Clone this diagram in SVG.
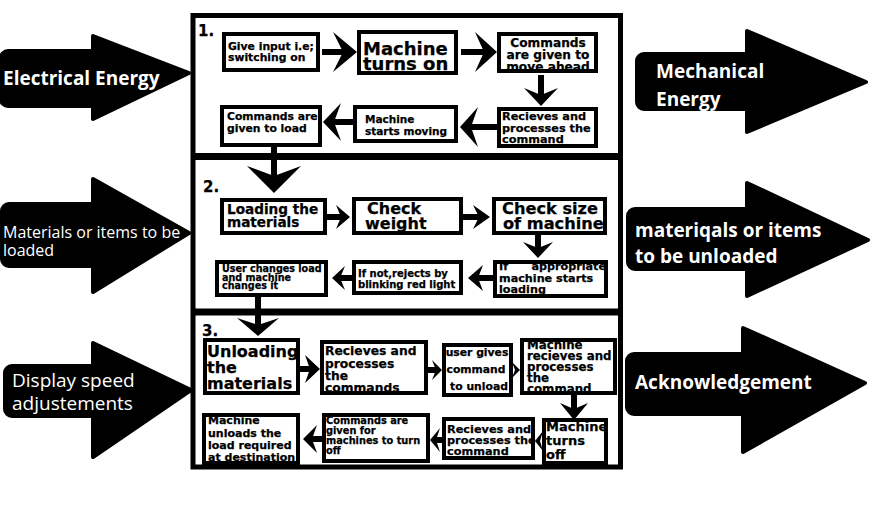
<svg xmlns="http://www.w3.org/2000/svg" width="891" height="514" viewBox="0 0 891 514">
<style>
.bx{fill:none;stroke:#000;stroke-width:4}
.t{font-family:"DejaVu Sans",sans-serif;font-weight:bold;fill:#000;stroke:#000;stroke-width:0.25}
.sh{stroke:#000;fill:none}
.hd{fill:#000}
.blk{fill:#000;stroke:#000;stroke-width:4;stroke-linejoin:round}
.st{font-family:"Open Sans","Noto Sans",sans-serif;fill:#fff}
.fr{fill:none;stroke:#000}
</style>
<rect width="891" height="514" fill="#fff"/>
<g id="side-arrows">
<g id="in-electrical"><rect class="blk" x="1" y="51" width="105" height="55" rx="7"/><path class="blk" d="M93,36 L189,73 L93,119 Z"/><text class="st" x="3" y="85" font-size="19" font-weight="bold">Electrical Energy</text></g>
<g id="in-materials"><rect class="blk" x="2" y="204" width="105" height="62" rx="7"/><path class="blk" d="M93,179 L189,233 L93,292 Z"/><text class="st" x="3" y="238" font-size="16">Materials or items to be</text><text class="st" x="3" y="256" font-size="16">loaded</text></g>
<g id="in-display"><rect class="blk" x="5" y="366" width="105" height="50" rx="7"/><path class="blk" d="M93,343 L191,390 L93,457 Z"/><text class="st" x="12" y="387" font-size="19">Display speed</text><text class="st" x="12" y="410" font-size="19">adjustements</text></g>
<g id="out-mechanical"><rect class="blk" x="637" y="54" width="125" height="55" rx="7"/><path class="blk" d="M747,31 L866,82 L747,132 Z"/><text class="st" x="656" y="78" font-size="19" font-weight="bold">Mechanical</text><text class="st" x="656" y="106" font-size="19" font-weight="bold">Energy</text></g>
<g id="out-unloaded"><rect class="blk" x="628" y="209" width="125" height="60" rx="7"/><path class="blk" d="M747,183 L868,240 L747,296 Z"/><text class="st" x="635" y="237" font-size="19" font-weight="bold">materiqals or items</text><text class="st" x="635" y="263" font-size="19" font-weight="bold">to be unloaded</text></g>
<g id="out-ack"><rect class="blk" x="627" y="354" width="125" height="60" rx="7"/><path class="blk" d="M743,328 L865,383 L743,452 Z"/><text class="st" x="635" y="389" font-size="19" font-weight="bold">Acknowledgement</text></g>
</g>
<g id="frame">
<rect class="fr" x="193" y="15.5" width="427.5" height="451.5" stroke-width="5"/>
<line class="fr" x1="193" y1="156.5" x2="620.5" y2="156.5" stroke-width="7"/>
<line class="fr" x1="193" y1="312" x2="620.5" y2="312" stroke-width="7"/>
<text class="t" x="198" y="36" font-size="15">1.</text>
<text class="t" x="203" y="192" font-size="15">2.</text>
<text class="t" x="202" y="336" font-size="15">3.</text>
</g>
<g id="connectors">
<g class="sh" stroke-width="6">
<line x1="322" y1="52" x2="343" y2="52"/>
<line x1="461" y1="52" x2="484" y2="52"/>
<line x1="541" y1="75" x2="541" y2="95"/>
<line x1="471" y1="127" x2="497" y2="127"/>
<line x1="334" y1="122" x2="353" y2="122"/>
<line x1="274" y1="147" x2="274" y2="176"/>
<line x1="327" y1="217" x2="341" y2="217"/>
<line x1="463" y1="217" x2="479" y2="217"/>
<line x1="538" y1="235" x2="538" y2="248"/>
<line x1="478" y1="278" x2="493" y2="278"/>
<line x1="340" y1="278" x2="352" y2="278"/>
<line x1="258" y1="297" x2="258" y2="325"/>
<line x1="300" y1="369" x2="310" y2="369"/>
<line x1="428" y1="370" x2="436" y2="370"/>
<line x1="574" y1="395" x2="574" y2="409"/>
<line x1="436" y1="440" x2="442" y2="440"/>
<line x1="312" y1="439" x2="322" y2="439"/>
</g>
<g class="hd">
<polygon points="357,52 333,32 343,52 333,72"/>
<polygon points="497,52 475,32 484,52 475,72"/>
<polygon points="541,106 524,88 541,95 558,88"/>
<polygon points="460,127 478,107 471,127 478,147"/>
<polygon points="323,122 341,103 334,122 341,141"/>
<polygon points="274,193 247,166 274,176 301,166"/>
<polygon points="350,217 336,205 341,217 336,229"/>
<polygon points="490,217 473,205 479,217 473,229"/>
<polygon points="538,258 523,242 538,248 553,242"/>
<polygon points="468,278 483,265 478,278 483,291"/>
<polygon points="332,278 345,266 340,278 345,290"/>
<polygon points="258,336 237,318 258,325 279,318"/>
<polygon points="320,369 305,355 310,369 305,383"/>
<polygon points="442,370 432,360 436,370 432,380"/>
<polygon points="520,370 512,362 515,370 512,378"/>
<polygon points="574,420 560,403 574,409 588,403"/>
<polygon points="535,441 543,431 540,441 543,451"/>
<polygon points="430,440 440,428 436,440 440,452"/>
<polygon points="303,439 317,425 312,439 317,453"/>
</g>
</g>
<g id="n1"><text class="t" font-size="10.8" x="228"><tspan y="49.5">Give input i.e;</tspan><tspan x="228" y="61">switching on</tspan></text><rect class="bx" x="224" y="34" width="94" height="36"/></g>
<g id="n2"><text class="t" font-size="18" x="363"><tspan y="54.5">Machine</tspan><tspan x="363" y="70">turns on</tspan></text><rect class="bx" x="359" y="32" width="97" height="41"/></g>
<g id="n3"><text class="t" font-size="12.2" text-anchor="middle" x="548"><tspan y="47">Commands</tspan><tspan x="548" y="59">are given to</tspan><tspan x="548" y="71">move ahead</tspan></text><rect class="bx" x="499" y="34" width="97" height="37"/></g>
<g id="n4"><text class="t" font-size="11.3" x="502"><tspan y="120">Recieves and</tspan><tspan x="502" y="131.5">processes the</tspan><tspan x="502" y="142.5">command</tspan></text><rect class="bx" x="499" y="109" width="97" height="37"/></g>
<g id="n5"><text class="t" font-size="10.5" x="365"><tspan y="123">Machine</tspan><tspan x="365" y="134.5">starts moving</tspan></text><rect class="bx" x="355" y="107" width="101" height="34"/></g>
<g id="n6"><text class="t" font-size="10.8" x="227"><tspan y="120">Commands are</tspan><tspan x="227" y="131.5">given to load</tspan></text><rect class="bx" x="222" y="107" width="98" height="38"/></g>
<g id="n7"><text class="t" font-size="13.6" x="227"><tspan y="213.5">Loading the</tspan><tspan x="227" y="226.5">materials</tspan></text><rect class="bx" x="222" y="200" width="103" height="33"/></g>
<g id="n8"><text class="t" font-size="16" x="367"><tspan y="213.5">Check</tspan><tspan x="365" y="229">weight</tspan></text><rect class="bx" x="354" y="199" width="107" height="34"/></g>
<g id="n9"><text class="t" font-size="16.2" x="502"><tspan y="214">Check size</tspan><tspan x="503" y="229">of machine</tspan></text><rect class="bx" x="494" y="199" width="111" height="34"/></g>
<g id="n10"><text class="t" font-size="11.2" x="499"><tspan y="270">If</tspan><tspan x="606" y="270" text-anchor="end">appropriate</tspan><tspan x="499" y="281.5">machine starts</tspan><tspan x="499" y="293">loading</tspan></text><rect class="bx" x="495" y="262" width="111" height="34"/></g>
<g id="n11"><text class="t" font-size="10" x="358"><tspan y="277">If not,rejects by</tspan><tspan x="358" y="287.5">blinking red light</tspan></text><rect class="bx" x="354" y="262" width="107" height="31"/></g>
<g id="n12"><text class="t" font-size="9.6" x="222"><tspan y="272">User changes load</tspan><tspan x="222" y="280.5">and machine</tspan><tspan x="222" y="289">changes it</tspan></text><rect class="bx" x="217" y="262" width="109" height="33"/></g>
<g id="n13"><text class="t" font-size="16" x="207"><tspan y="357">Unloading</tspan><tspan x="207" y="373">the</tspan><tspan x="207" y="388.5">materials</tspan></text><rect class="bx" x="205" y="340" width="93" height="53"/></g>
<g id="n14"><text class="t" font-size="12.3" x="325"><tspan y="355">Recieves and</tspan><tspan x="325" y="367.5">processes</tspan><tspan x="325" y="380">the</tspan><tspan x="325" y="392">commands</tspan></text><rect class="bx" x="322" y="342" width="104" height="51"/></g>
<g id="n15"><text class="t" font-size="10.8" text-anchor="middle" x="477"><tspan y="356">user gives</tspan><tspan x="476" y="373">command</tspan><tspan x="479" y="390">to unload</tspan></text><rect class="bx" x="444" y="345" width="67" height="50"/></g>
<g id="n16"><text class="t" font-size="11.8" x="527"><tspan y="349">Machine</tspan><tspan x="527" y="360">recieves and</tspan><tspan x="527" y="371">processes</tspan><tspan x="527" y="382">the</tspan><tspan x="527" y="393">command</tspan></text><rect class="bx" x="522" y="340" width="93" height="53"/></g>
<g id="n17"><text class="t" font-size="13" x="546"><tspan y="431">Machine</tspan><tspan x="546" y="444.5">turns</tspan><tspan x="546" y="458.5">off</tspan></text><rect class="bx" x="544" y="420" width="62" height="43"/></g>
<g id="n18"><text class="t" font-size="11.3" x="447"><tspan y="433">Recieves and</tspan><tspan x="447" y="444">processes the</tspan><tspan x="447" y="455">command</tspan></text><rect class="bx" x="444" y="419" width="89" height="39"/></g>
<g id="n19"><text class="t" font-size="9.8" x="326"><tspan y="424">Commands are</tspan><tspan x="326" y="434">given for</tspan><tspan x="326" y="444">machines to turn</tspan><tspan x="326" y="454">off</tspan></text><rect class="bx" x="324" y="415" width="104" height="46"/></g>
<g id="n20"><text class="t" font-size="11" x="208"><tspan y="424">Machine</tspan><tspan x="208" y="436.5">unloads the</tspan><tspan x="208" y="448.5">load required</tspan><tspan x="208" y="460.5">at destination</tspan></text><rect class="bx" x="204" y="415" width="94" height="48"/></g>
</svg>
